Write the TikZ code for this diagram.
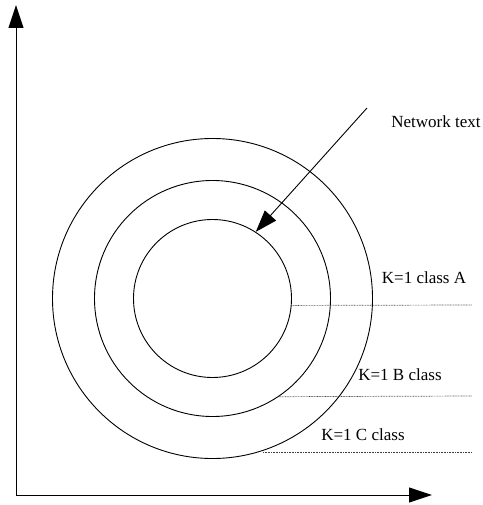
\documentclass[tikz,border=0pt]{standalone}
\usepackage{fontspec}
\setmainfont{Liberation Serif}
\usetikzlibrary{arrows.meta}
\begin{document}
\begin{tikzpicture}[x=1pt,y=-1pt,
  ring/.style={draw,circle,line width=0.9pt,inner sep=0pt},
  axis/.style={line width=1pt,-{Triangle[length=23pt,width=15pt]}},
  pointer/.style={line width=0.9pt,-{Triangle[length=22pt,width=15pt]}},
  level/.style={line width=0.7pt,dash pattern=on 0.8pt off 0.8pt,draw=black!75},
  lbl/.style={font=\fontsize{17}{19}\selectfont,inner sep=0pt}]
\useasboundingbox (0,0) rectangle (482,505);
\coordinate (o) at (16,495);
\coordinate (ytop) at (16,5);
\coordinate (xend) at (432,495);
\draw[axis] (o) -- (ytop);
\draw[axis] (o) -- (xend);
\node[ring,minimum size=320pt] (outer) at (212.5,298.5) {};
\node[ring,minimum size=236pt] (middle) at (212.5,298.5) {};
\node[ring,minimum size=158pt] (inner) at (212.5,298.5) {};
\coordinate (ps) at (367,108);
\draw[pointer] (ps) -- (inner.57);
\node[lbl] (net) at (436,122) {Network text};
\coordinate (ae) at (472,305);
\coordinate (be) at (472,396);
\coordinate (cs) at (263,452);
\coordinate (ce) at (472,452);
\draw[level] (inner.-5) -- (ae);
\draw[level] (middle.-56) -- (be);
\draw[level] (cs) -- (ce);
\node[lbl] (la) at (424,278) {K=1 class A};
\node[lbl] (lb) at (400,375) {K=1 B class};
\node[lbl] (lc) at (363,435) {K=1 C class};
\end{tikzpicture}
\end{document}
